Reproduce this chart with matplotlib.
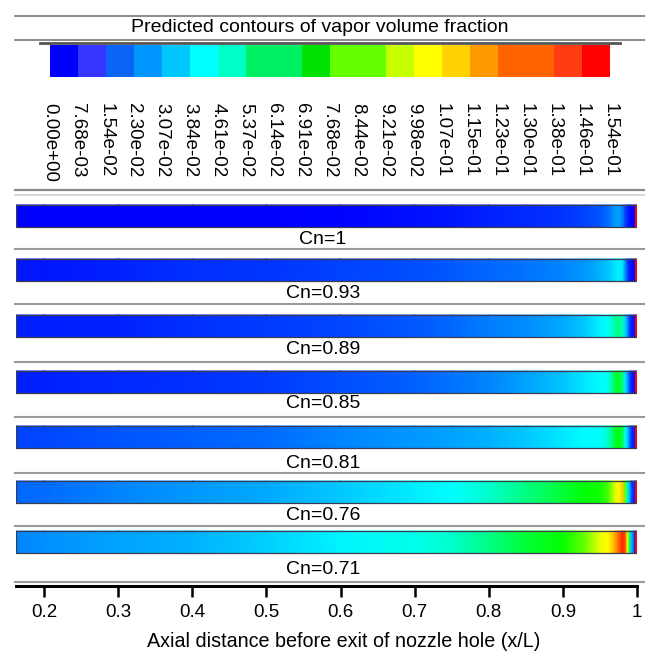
import numpy as np
import matplotlib
matplotlib.use("Agg")
import matplotlib.pyplot as plt
from matplotlib.colors import ListedColormap, BoundaryNorm, LinearSegmentedColormap
from matplotlib.cm import ScalarMappable
from matplotlib.lines import Line2D
from matplotlib.patches import Rectangle

plt.rcParams['font.family'] = ['Liberation Sans', 'DejaVu Sans']

# contour levels of the legend
levels = [0.0, 0.00768, 0.0154, 0.0230, 0.0307, 0.0384, 0.0461, 0.0537, 0.0614, 0.0691,
          0.0768, 0.0844, 0.0921, 0.0998, 0.107, 0.115, 0.123, 0.130, 0.138, 0.146, 0.154]
level_labels = ['0.00e+00', '7.68e-03', '1.54e-02', '2.30e-02', '3.07e-02', '3.84e-02',
                '4.61e-02', '5.37e-02', '6.14e-02', '6.91e-02', '7.68e-02', '8.44e-02',
                '9.21e-02', '9.98e-02', '1.07e-01', '1.15e-01', '1.23e-01', '1.30e-01',
                '1.38e-01', '1.46e-01', '1.54e-01']
band_colors = ['#0000FF', '#3636FF', '#0A64F5', '#0096FF', '#00C8FF', '#00FFFF', '#00FFC8',
               '#00F064', '#00F064', '#00E100', '#64FF00', '#64FF00', '#C8FF00', '#FFFF00',
               '#FFD200', '#FF9B00', '#FF6400', '#FF6400', '#FF3C14', '#FF0000']

x_pos = [0.162, 0.2, 0.3, 0.4, 0.5, 0.6, 0.7, 0.75, 0.8, 0.85, 0.9, 0.93, 0.95, 0.96,
         0.965, 0.97, 0.975, 0.98, 0.984, 0.987, 0.99, 0.993, 0.997, 0.998, 1.0]
cn_labels = ['Cn=1', 'Cn=0.93', 'Cn=0.89', 'Cn=0.85', 'Cn=0.81', 'Cn=0.76', 'Cn=0.71']
vf_100 = [0.0, 0.0, 0.0, 0.0, 0.0005, 0.001, 0.003, 0.004, 0.006, 0.007, 0.009, 0.011, 0.014,
          0.018, 0.021, 0.025, 0.027, 0.022, 0.012, 0.006, 0.003, 0.001, 0.0, 0.154, 0.154]
vf_093 = [0.004, 0.004, 0.006, 0.008, 0.009, 0.011, 0.013, 0.015, 0.017, 0.019, 0.022, 0.025,
          0.029, 0.032, 0.034, 0.037, 0.040, 0.038, 0.025, 0.012, 0.006, 0.003, 0.002, 0.154, 0.154]
vf_089 = [0.005, 0.005, 0.006, 0.008, 0.010, 0.012, 0.015, 0.017, 0.021, 0.023, 0.028, 0.033,
          0.040, 0.042, 0.046, 0.052, 0.058, 0.050, 0.036, 0.025, 0.012, 0.005, 0.003, 0.154, 0.154]
vf_085 = [0.005, 0.006, 0.007, 0.008, 0.010, 0.013, 0.016, 0.019, 0.022, 0.027, 0.032, 0.038,
          0.041, 0.043, 0.050, 0.064, 0.068, 0.060, 0.038, 0.028, 0.015, 0.006, 0.003, 0.154, 0.154]
vf_081 = [0.011, 0.012, 0.014, 0.016, 0.018, 0.022, 0.025, 0.027, 0.029, 0.033, 0.038, 0.041,
          0.042, 0.047, 0.055, 0.066, 0.070, 0.065, 0.045, 0.034, 0.020, 0.008, 0.004, 0.154, 0.154]
vf_076 = [0.017, 0.018, 0.022, 0.025, 0.028, 0.033, 0.039, 0.042, 0.048, 0.057, 0.066, 0.072,
          0.074, 0.080, 0.088, 0.097, 0.104, 0.112, 0.085, 0.050, 0.030, 0.012, 0.005, 0.154, 0.154]
vf_071 = [0.022, 0.024, 0.027, 0.029, 0.034, 0.040, 0.044, 0.048, 0.056, 0.066, 0.073, 0.085,
          0.100, 0.104, 0.110, 0.120, 0.132, 0.145, 0.140, 0.100, 0.060, 0.030, 0.008, 0.154, 0.154]
strips = [vf_100, vf_093, vf_089, vf_085, vf_081, vf_076, vf_071]

xticks = [0.2, 0.3, 0.4, 0.5, 0.6, 0.7, 0.8, 0.9, 1.0]
xtick_labels = ['0.2', '0.3', '0.4', '0.5', '0.6', '0.7', '0.8', '0.9', '1']

# layout in pixels
W, H = 645, 654
def fx(px):
    return px / W
def fy(py):
    return 1 - py / H

fig = plt.figure(figsize=(W / 100, H / 100), dpi=100)

def hline(py, x0, x1, color, lw):
    fig.add_artist(Line2D([fx(x0), fx(x1)], [fy(py), fy(py)], color=color, lw=lw,
                          transform=fig.transFigure))

# legend header
hline(16, 15, 645, '#777777', 1.2)
hline(40, 15, 645, '#777777', 1.2)
fig.text(fx(320), fy(28), 'Predicted contours of vapor volume fraction',
         ha='center', va='center', fontsize=14)
hline(43, 40, 620, '#555555', 2.0)

cax = fig.add_axes([fx(50), fy(77), fx(610) - fx(50), (77 - 45) / H])
sm = ScalarMappable(norm=BoundaryNorm(levels, len(band_colors)), cmap=ListedColormap(band_colors))
cb = fig.colorbar(sm, cax=cax, orientation='horizontal', ticks=levels, spacing='uniform')
cb.outline.set_visible(False)
cax.tick_params(length=0, pad=19)
cax.set_xticklabels(level_labels, rotation=270, fontsize=13.5)

hline(190, 15, 645, '#8a8a8a', 1.6)
hline(195, 15, 645, '#d0d0d0', 1.2)

# strips
strip_cmap = LinearSegmentedColormap.from_list(
    'fluent', [(0, '#0000FF'), (0.27, '#00FFFF'), (0.47, '#00FF00'), (0.67, '#FFFF00'), (1, '#FF0000')])

ax = fig.add_axes([fx(16), fy(586), fx(637) - fx(16), (586 - 190) / H])
ax.set_xlim(x_pos[0], 1.0)
ax.set_ylim(586, 190)

strip_tops = [205, 259, 315, 371, 426, 481, 531]
label_ys = [240, 293, 350, 404, 463, 515, 570]
sep_ys = [249, 304, 362, 417, 473, 526, 582]
sh = 22
n = len(x_pos)
for vals, lab, top, ly in zip(strips, cn_labels, strip_tops, label_ys):
    X = np.array([x_pos, x_pos])
    Y = np.array([[top] * n, [top + sh] * n])
    C = np.array([vals, vals])
    ax.pcolormesh(X, Y, C, shading='gouraud', cmap=strip_cmap, vmin=0, vmax=0.154)
    ax.add_patch(Rectangle((x_pos[0], top), 1.0 - x_pos[0], sh, fill=False,
                           ec='#3c3c50', lw=0.9))
    ax.text(0.576, ly, lab, ha='center', va='center', fontsize=14)

for py in sep_ys:
    hline(py, 15, 645, '#9a9a9a', 1.5)

for s in ['top', 'left', 'right']:
    ax.spines[s].set_visible(False)
ax.spines['bottom'].set_linewidth(2.2)
ax.set_yticks([])
ax.set_xticks(xticks)
ax.set_xticklabels(xtick_labels)
ax.tick_params(axis='x', direction='out', length=8, width=1.8, pad=5, labelsize=13.5)
ax.set_xlabel('Axial distance before exit of nozzle hole (x/L)', fontsize=14.2, labelpad=9)
ax.xaxis.set_label_coords((344 - 16) / (637 - 16), -0.115)

fig.savefig('out.png', dpi=100)
